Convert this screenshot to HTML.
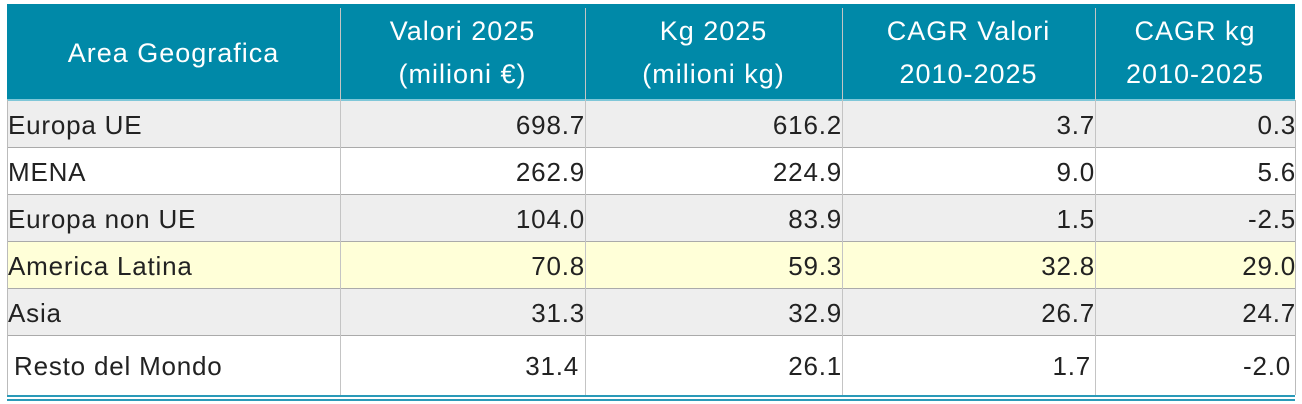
<!DOCTYPE html>
<html><head><style>
body{margin:0;width:1302px;height:404px;background:#fff;position:relative;overflow:hidden;font-family:"Liberation Sans",sans-serif;}
.d{position:absolute;box-sizing:border-box;}
.t{position:absolute;font-size:26px;letter-spacing:0.8px;color:#222;white-space:nowrap;}
.h{position:absolute;font-size:27px;letter-spacing:1px;color:#fff;text-align:center;line-height:43px;}
</style></head><body>
<div class="d" style="left:7px;top:4px;width:1288px;height:96px;background:#0089a8"></div>
<div class="d" style="left:7px;top:99px;width:1288px;height:2px;background:#7fc7d8"></div>
<div class="d" style="left:7px;top:101px;width:1288px;height:46px;background:#eeeeee"></div>
<div class="d" style="left:7px;top:148px;width:1288px;height:46px;background:#fff"></div>
<div class="d" style="left:7px;top:195px;width:1288px;height:46px;background:#eeeeee"></div>
<div class="d" style="left:7px;top:242px;width:1288px;height:46px;background:#ffffd8"></div>
<div class="d" style="left:7px;top:289px;width:1288px;height:46px;background:#eeeeee"></div>
<div class="d" style="left:7px;top:147px;width:1288px;height:1px;background:#aaa"></div>
<div class="d" style="left:7px;top:194px;width:1288px;height:1px;background:#aaa"></div>
<div class="d" style="left:7px;top:241px;width:1288px;height:1px;background:#aaa"></div>
<div class="d" style="left:7px;top:288px;width:1288px;height:1px;background:#aaa"></div>
<div class="d" style="left:7px;top:335px;width:1288px;height:1px;background:#aaa"></div>
<div class="d" style="left:7px;top:395px;width:1288px;height:2px;background:#2a9ab8"></div>
<div class="d" style="left:7px;top:399px;width:1288px;height:2px;background:#2a9ab8"></div>
<div class="d" style="left:7px;top:100px;width:1px;height:295px;background:#bbb"></div>
<div class="d" style="left:340px;top:8px;width:1px;height:387px;background:#c4c4c4"></div>
<div class="d" style="left:585px;top:8px;width:1px;height:387px;background:#c4c4c4"></div>
<div class="d" style="left:842px;top:8px;width:1px;height:387px;background:#c4c4c4"></div>
<div class="d" style="left:1095px;top:8px;width:1px;height:387px;background:#c4c4c4"></div>
<div class="d" style="left:1295px;top:100px;width:1px;height:295px;background:#bbb"></div>

<div class="h" style="left:7px;top:32px;width:333px">Area Geografica</div>
<div class="h" style="left:340px;top:10px;width:245px">Valori 2025<br>(milioni €)</div>
<div class="h" style="left:585px;top:10px;width:257px">Kg 2025<br>(milioni kg)</div>
<div class="h" style="left:842px;top:10px;width:253px">CAGR Valori<br>2010-2025</div>
<div class="h" style="left:1095px;top:10px;width:200px">CAGR kg<br>2010-2025</div>

<div class="t" style="left:8px;top:110px">Europa UE</div>
<div class="t" style="left:8px;top:157px">MENA</div>
<div class="t" style="left:8px;top:204px">Europa non UE</div>
<div class="t" style="left:8px;top:251px">America Latina</div>
<div class="t" style="left:8px;top:298px">Asia</div>
<div class="t" style="left:14px;top:351px">Resto del Mondo</div>

<div class="t" style="right:717px;top:110px">698.7</div>
<div class="t" style="right:717px;top:157px">262.9</div>
<div class="t" style="right:717px;top:204px">104.0</div>
<div class="t" style="right:717px;top:251px">70.8</div>
<div class="t" style="right:717px;top:298px">31.3</div>
<div class="t" style="right:723px;top:351px">31.4</div>

<div class="t" style="right:460px;top:110px">616.2</div>
<div class="t" style="right:460px;top:157px">224.9</div>
<div class="t" style="right:460px;top:204px">83.9</div>
<div class="t" style="right:460px;top:251px">59.3</div>
<div class="t" style="right:460px;top:298px">32.9</div>
<div class="t" style="right:460px;top:351px">26.1</div>

<div class="t" style="right:207px;top:110px">3.7</div>
<div class="t" style="right:207px;top:157px">9.0</div>
<div class="t" style="right:207px;top:204px">1.5</div>
<div class="t" style="right:207px;top:251px">32.8</div>
<div class="t" style="right:207px;top:298px">26.7</div>
<div class="t" style="right:211px;top:351px">1.7</div>

<div class="t" style="right:6px;top:110px">0.3</div>
<div class="t" style="right:6px;top:157px">5.6</div>
<div class="t" style="right:6px;top:204px">-2.5</div>
<div class="t" style="right:6px;top:251px">29.0</div>
<div class="t" style="right:6px;top:298px">24.7</div>
<div class="t" style="right:11px;top:351px">-2.0</div>
</body></html>
